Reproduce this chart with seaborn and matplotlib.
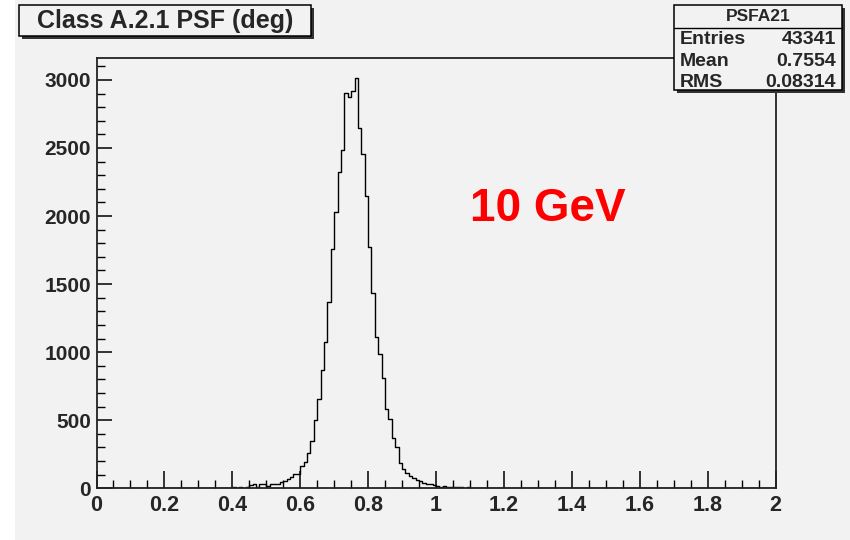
import numpy as np
import pandas as pd
import matplotlib
matplotlib.use("Agg")
import matplotlib.pyplot as plt
from matplotlib.patches import Rectangle
from matplotlib.lines import Line2D
from matplotlib.ticker import MultipleLocator
import seaborn as sns

# ---- data ----
bin_lo = 0.37  # first non-empty bin lower edge
counts_tail_left = [3, 5, 4, 6, 2, 8, 5, 12, 22, 30, 12, 28, 30, 14, 35, 34, 35, 48, 55, 65, 80, 108, 102]
counts_core = [165, 190, 258, 344, 503, 655, 870, 1078, 1367, 1759, 2028, 2327, 2486, 2902, 2877,
               2921, 3012, 2650, 2454, 2148, 1771, 1438, 1110, 988, 809, 581, 508, 369, 300, 185,
               141, 112]
counts_tail_right = [90, 75, 62, 50, 42, 33, 28, 22, 17, 12, 14, 10, 8, 11, 6, 9, 4, 7, 3, 5, 2, 4,
                     0, 3, 2, 0, 2, 3, 0, 2, 1]
title_text = "Class A.2.1 PSF (deg)"
stat_name = "PSFA21"
stat_labels = ["Entries", "Mean", "RMS"]
stat_values = ["43341", "0.7554", "0.08314"]
annot_text = "10 GeV"
x_ticks = [0, 0.2, 0.4, 0.6, 0.8, 1, 1.2, 1.4, 1.6, 1.8, 2]
y_ticks = [0, 500, 1000, 1500, 2000, 2500, 3000]

nbins = 200
width = 0.01
counts = counts_tail_left + counts_core + counts_tail_right
start = int(round(bin_lo / width))
centers = [(start + i + 0.5) * width for i in range(len(counts))]
df = pd.DataFrame({"psf": centers, "n": counts})

sns.set_style("ticks")
plt.rcParams["font.family"] = ["Liberation Sans", "DejaVu Sans"]
plt.rcParams["font.weight"] = "bold"

BG = "#f2f2f2"
W, H = 850, 540
fig = plt.figure(figsize=(8.5, 5.4), dpi=100, facecolor="white")
# grey canvas (white strip on the left)
fig.patches.append(Rectangle((15 / W, 0), 1 - 15 / W, 1, transform=fig.transFigure,
                             facecolor=BG, edgecolor="none", zorder=-10))

def fx(x):
    return x / W

def fy(y):
    return 1 - y / H

ax = fig.add_axes([fx(96.5), fy(488.3), fx(775.5) - fx(96.5), fy(57.7) - fy(488.3)])
ax.set_facecolor(BG)

sns.histplot(data=df, x="psf", weights="n", bins=nbins, binrange=(0, 2), element="step",
             fill=False, color="black", linewidth=1.0, ax=ax)

ax.set_xlim(0, 2)
ax.set_ylim(0, 3163)
ax.set_xlabel("")
ax.set_ylabel("")
for s in ax.spines.values():
    s.set_linewidth(1.3)
    s.set_color("#222222")
    s.set_visible(True)

ax.set_xticks(x_ticks)
ax.set_xticklabels([f"{t:g}" for t in x_ticks])
ax.xaxis.set_minor_locator(MultipleLocator(0.05))
ax.set_yticks(y_ticks)
ax.yaxis.set_minor_locator(MultipleLocator(100))
ax.tick_params(axis="both", which="both", direction="in", top=False, right=False, color="black")
ax.tick_params(axis="x", which="major", length=12, width=1.1, labelsize=15.5, pad=5)
ax.tick_params(axis="x", which="minor", length=6, width=1.0)
ax.tick_params(axis="y", which="major", length=11, width=1.1, labelsize=15, pad=4)
ax.tick_params(axis="y", which="minor", length=6, width=1.0)
for lab in ax.get_xticklabels() + ax.get_yticklabels():
    lab.set_fontweight("bold")

# red annotation
ax.text(0.665, 0.648, annot_text, transform=ax.transAxes, color="#ff0000", fontsize=33,
        fontweight="bold", ha="center", va="center")

# boxes with shadow
def box(x0, y0, x1, y1):
    sh = 2.5
    fig.patches.append(Rectangle((fx(x0 + sh), fy(y1 + sh)), fx(x1) - fx(x0), fy(y0) - fy(y1),
                                 transform=fig.transFigure, facecolor="#333333",
                                 edgecolor="none", zorder=5))
    fig.patches.append(Rectangle((fx(x0), fy(y1)), fx(x1) - fx(x0), fy(y0) - fy(y1),
                                 transform=fig.transFigure, facecolor=BG,
                                 edgecolor="black", linewidth=1.1, zorder=6))

box(19, 5, 311, 36)
fig.text(fx(165), fy(21), title_text, ha="center", va="center", fontsize=18,
         fontweight="bold", zorder=7)

# stats box
box(674, 5, 842, 90)
fig.lines.append(Line2D([fx(674), fx(842)], [fy(28), fy(28)], transform=fig.transFigure,
                        color="black", linewidth=1.0, zorder=7))
fig.text(fx(758), fy(16.5), stat_name, ha="center", va="center", fontsize=12.5,
         fontweight="bold", zorder=7)
for i, (lab, val) in enumerate(zip(stat_labels, stat_values)):
    yy = 39.5 + i * 21.5
    fig.text(fx(680), fy(yy), lab, ha="left", va="center", fontsize=14,
             fontweight="bold", zorder=7)
    fig.text(fx(836), fy(yy), val, ha="right", va="center", fontsize=14,
             fontweight="bold", zorder=7)

fig.savefig("out.png", dpi=100, facecolor=fig.get_facecolor())
